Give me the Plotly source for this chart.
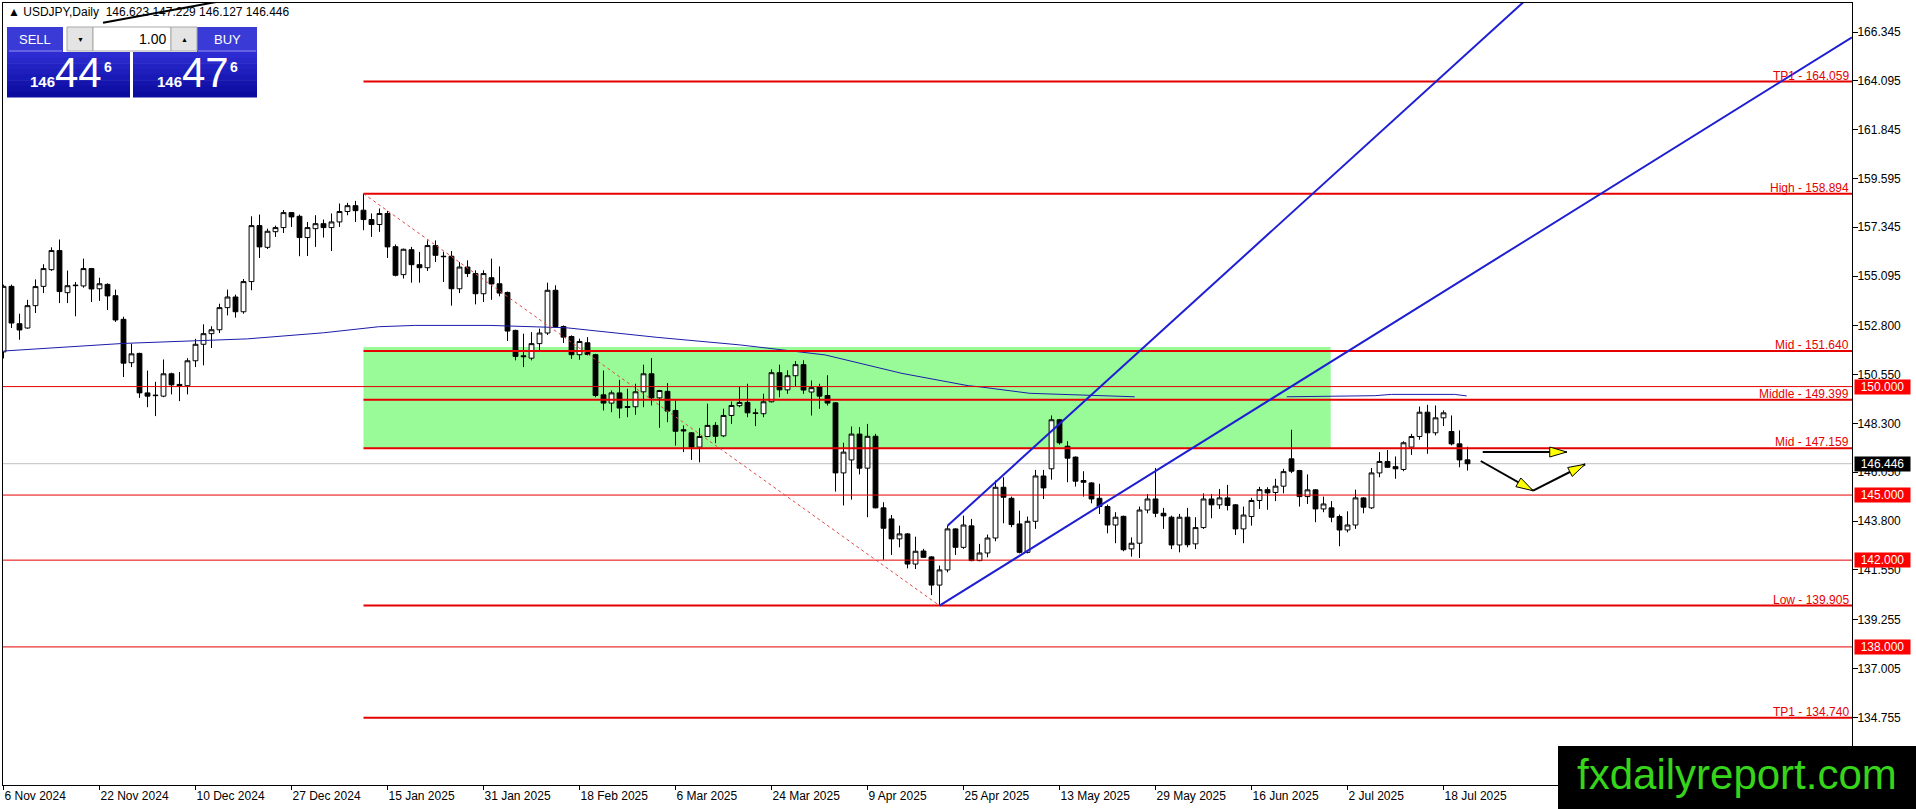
import plotly.graph_objects as go

# ---------------- data ----------------
opens = [151.60, 154.62, 152.90, 152.70, 153.73, 154.62, 155.39, 156.27, 154.33, 154.65,
         154.64, 155.44, 154.51, 154.71, 154.19, 153.10, 151.10, 151.53, 149.71, 149.58,
         149.56, 150.59, 150.10, 150.04, 151.19, 151.95, 152.44, 152.62, 153.64, 154.13,
         153.45, 154.84, 157.42, 156.42, 157.14, 157.33, 158.02, 157.85, 156.87, 157.28,
         157.51, 157.33, 157.59, 158.07, 158.34, 158.13, 157.70, 157.47, 157.98, 156.45,
         155.16, 156.31, 155.62, 155.48, 156.50, 156.01, 156.01, 154.51, 155.51, 155.21,
         154.28, 155.02, 154.74, 154.34, 152.59, 151.42, 151.31, 151.98, 152.47, 154.44,
         152.77, 152.31, 151.47, 152.02, 151.47, 149.62, 149.24, 149.71, 149.08, 149.07,
         149.76, 150.59, 149.48, 149.78, 148.90, 148.01, 147.87, 147.21, 147.70, 148.21,
         147.73, 148.67, 149.12, 149.27, 148.79, 148.75, 149.30, 150.64, 149.85, 150.50,
         151.01, 149.75, 149.98, 149.59, 149.25, 146.02, 146.62, 147.81, 146.24, 147.71,
         144.41, 143.90, 142.98, 143.21, 141.82, 142.42, 142.15, 140.85, 141.55, 143.44,
         142.59, 143.58, 141.98, 142.33, 143.02, 145.36, 144.85, 143.67, 142.36, 143.79,
         145.88, 146.21, 148.47, 147.25, 146.75, 145.67, 145.56, 144.85, 144.47, 143.62,
         144.02, 142.52, 142.78, 144.31, 144.82, 144.16, 143.98, 142.70, 143.98, 142.75,
         143.50, 144.82, 144.55, 144.87, 144.55, 143.44, 144.01, 144.75, 145.25, 145.12,
         145.41, 146.67, 146.13, 144.93, 145.24, 144.36, 144.41, 144.01, 143.39, 143.62,
         144.87, 144.41, 146.02, 146.55, 146.31, 146.18, 147.21, 147.70, 148.82, 147.87,
         148.56, 147.93, 147.36, 146.623]
highs = [154.70, 154.70, 153.36, 154.00, 154.94, 155.64, 156.42, 156.78, 155.35, 154.82,
         155.90, 155.47, 155.02, 154.76, 154.47, 153.22, 151.98, 151.56, 150.74, 150.22,
         151.25, 150.64, 150.67, 151.31, 152.20, 152.87, 152.78, 153.82, 154.47, 154.24,
         154.96, 157.85, 157.93, 157.28, 157.42, 158.14, 158.04, 157.93, 157.59, 157.90,
         157.70, 157.98, 158.44, 158.47, 158.56, 158.894, 157.98, 158.21, 158.10, 156.55,
         156.36, 156.44, 156.21, 156.74, 156.74, 156.21, 156.25, 155.74, 155.82, 155.36,
         155.36, 155.90, 155.54, 154.38, 152.62, 152.44, 152.51, 152.67, 154.79, 154.67,
         152.82, 152.36, 152.21, 152.28, 151.51, 150.74, 149.82, 150.31, 149.90, 150.13,
         151.01, 151.31, 149.85, 150.16, 149.36, 148.21, 147.90, 148.08, 149.21, 148.36,
         148.98, 149.31, 149.98, 150.13, 148.98, 149.67, 150.79, 151.01, 150.75, 151.18,
         151.21, 150.28, 150.13, 150.52, 149.28, 147.41, 148.16, 148.13, 148.28, 147.82,
         144.67, 144.08, 143.59, 143.25, 143.08, 142.52, 142.18, 141.75, 143.59, 143.47,
         144.05, 143.90, 142.75, 143.18, 145.67, 145.82, 144.93, 144.28, 144.01, 146.16,
         146.16, 148.67, 148.51, 147.48, 146.78, 146.10, 145.59, 145.52, 144.56, 144.21,
         144.05, 143.05, 144.47, 145.05, 146.25, 144.41, 144.05, 144.13, 144.41, 143.98,
         145.08, 145.05, 145.28, 145.47, 144.58, 144.47, 144.87, 145.38, 145.36, 145.75,
         146.21, 148.01, 146.16, 145.95, 145.27, 144.93, 144.72, 144.10, 144.25, 145.25,
         144.90, 146.25, 146.98, 147.08, 146.78, 147.48, 147.82, 149.08, 149.16, 149.13,
         148.90, 148.67, 147.98, 147.229]
lows = [151.30, 152.70, 152.16, 152.67, 153.39, 154.31, 155.33, 153.85, 153.85, 153.24,
        154.56, 153.90, 153.95, 153.53, 152.98, 150.44, 150.90, 149.48, 149.05, 148.64,
        149.51, 149.64, 149.33, 149.64, 150.90, 150.98, 151.78, 152.47, 153.28, 153.18,
        153.36, 154.44, 155.93, 156.34, 156.90, 157.08, 157.36, 156.01, 156.02, 156.44,
        156.87, 156.25, 157.36, 157.90, 157.59, 157.21, 156.90, 157.13, 155.93, 155.08,
        154.98, 154.79, 154.79, 155.33, 155.74, 154.82, 153.73, 154.31, 155.05, 153.79,
        153.90, 154.00, 154.16, 152.10, 151.21, 150.90, 151.21, 151.67, 152.38, 152.71,
        152.01, 151.28, 151.24, 151.44, 149.51, 148.90, 148.82, 148.54, 148.59, 148.70,
        149.05, 149.13, 148.10, 148.36, 147.28, 146.98, 146.62, 146.51, 147.67, 147.39,
        147.67, 148.28, 149.05, 148.59, 148.18, 148.59, 149.27, 149.51, 149.67, 150.02,
        149.67, 148.67, 148.98, 149.13, 145.16, 144.52, 144.79, 145.95, 143.98, 144.39,
        142.02, 142.24, 142.59, 141.62, 141.59, 142.10, 140.39, 139.905, 141.44, 142.24,
        142.52, 141.95, 141.95, 142.13, 142.87, 143.70, 143.52, 142.31, 142.31, 143.44,
        144.82, 145.71, 147.33, 145.59, 145.39, 144.93, 144.62, 144.13, 143.24, 142.78,
        142.41, 142.16, 142.10, 144.16, 143.98, 143.44, 142.51, 142.36, 142.59, 142.51,
        143.44, 143.93, 144.36, 144.29, 143.16, 142.78, 143.59, 144.36, 144.32, 144.72,
        145.08, 146.01, 144.47, 144.59, 143.75, 144.21, 143.75, 142.64, 143.28, 143.44,
        144.16, 144.36, 145.82, 146.25, 145.75, 146.10, 146.85, 147.55, 146.90, 147.75,
        148.18, 147.29, 146.28, 146.127]
closes = [154.62, 152.93, 152.61, 153.73, 154.61, 155.44, 156.27, 154.38, 154.65, 154.67,
          155.44, 154.50, 154.74, 154.18, 153.07, 151.08, 151.51, 149.71, 149.56, 149.60,
          150.59, 150.08, 150.04, 151.19, 151.95, 152.44, 152.62, 153.64, 154.13, 153.45,
          154.84, 157.42, 156.44, 157.16, 157.33, 158.02, 157.82, 156.87, 157.33, 157.51,
          157.33, 157.59, 158.07, 158.34, 158.11, 157.70, 157.47, 157.98, 156.44, 155.13,
          156.33, 155.62, 155.48, 156.50, 156.05, 155.99, 154.51, 155.51, 155.21, 154.28,
          155.21, 154.73, 154.31, 152.56, 151.39, 151.38, 151.98, 152.47, 154.44, 152.77,
          152.28, 151.47, 152.08, 151.48, 149.59, 149.24, 149.71, 149.01, 149.04, 149.76,
          150.59, 149.48, 149.82, 148.87, 147.94, 147.96, 147.21, 147.70, 148.21, 147.71,
          148.67, 149.13, 149.27, 148.79, 148.76, 149.30, 150.64, 149.85, 150.50, 151.01,
          149.84, 149.95, 149.56, 149.24, 146.02, 146.98, 147.81, 146.24, 147.71, 144.41,
          143.47, 142.98, 143.21, 141.82, 142.41, 142.13, 140.85, 141.55, 143.44, 142.59,
          143.62, 141.98, 142.33, 143.02, 145.36, 144.90, 143.64, 142.36, 143.79, 145.88,
          145.33, 148.47, 147.41, 146.70, 145.64, 145.59, 144.82, 144.47, 143.62, 143.98,
          142.48, 142.78, 144.31, 144.82, 144.16, 144.04, 142.70, 143.98, 142.71, 143.50,
          144.82, 144.55, 144.87, 144.52, 143.44, 144.08, 144.75, 145.25, 145.10, 145.41,
          146.08, 146.10, 144.93, 145.24, 144.36, 144.59, 143.98, 143.39, 143.62, 144.87,
          144.44, 146.02, 146.55, 146.28, 146.21, 147.41, 147.70, 148.82, 147.87, 148.56,
          148.79, 147.36, 146.62, 146.446]

tick_bars = [0, 12, 24, 36, 48, 60, 72, 84, 96, 108, 120, 132, 144, 156, 168, 180]
tick_labels = ["6 Nov 2024", "22 Nov 2024", "10 Dec 2024", "27 Dec 2024", "15 Jan 2025",
               "31 Jan 2025", "18 Feb 2025", "6 Mar 2025", "24 Mar 2025", "9 Apr 2025",
               "25 Apr 2025", "13 May 2025", "29 May 2025", "16 Jun 2025", "2 Jul 2025",
               "18 Jul 2025"]
price_ticks = [166.345, 164.095, 161.845, 159.595, 157.345, 155.095, 152.800, 150.550,
               148.300, 146.050, 143.800, 141.550, 139.255, 137.005, 134.755]

fib_levels = [164.059, 158.894, 151.640, 149.399, 147.159, 139.905, 134.740]
fib_names = ["TP1", "High", "Mid", "Middle", "Mid", "Low", "TP1"]
fib_start_bar = 45
level_lines = [150.0, 145.0, 142.0, 138.0]
last_price = 146.446

zone_bars = [45, 165.9]
zone_prices = [147.159, 151.825]

ma1_bars = [0, 15, 30.5, 40, 46.9, 51.4, 60.8, 70.4, 81.7, 92.1, 102.7, 112.3, 120.6, 122, 128.3, 134.6, 141.4]
ma1_vals = [151.64, 151.99, 152.20, 152.48, 152.76, 152.82, 152.82, 152.71, 152.27, 151.92, 151.46, 150.61, 150.04, 149.99, 149.69, 149.61, 149.53]
ma2_bars = [160.4, 165, 171.4, 173.5, 181.4, 182.9]
ma2_vals = [149.53, 149.55, 149.58, 149.64, 149.64, 149.57]

swing_bars = [45, 117]
swing_prices = [158.894, 139.905]
lower_ray = ([117, 231.06], [139.905, 166.10])
upper_ray = ([118, 200], [143.587, 171.08])
black_ray = ([12.44, 45], [166.774, 168.97])

arrow1 = ([184.9, 195.4], [146.985, 146.985])
arrow2 = ([184.65, 191.2, 197.7], [146.57, 145.20, 146.42])

header = "\u25b2 USDJPY,Daily  146.623 147.229 146.127 146.446"

# ---------------- geometry helpers ----------------
W, H = 1916, 809
L, R, T, B = 3, 1852, 3, 785
XR = [-0.0625, 231.06]
YR = [131.635, 167.682]
PX_PER_BAR = (R - L) / (XR[1] - XR[0])
PX_PER_PRICE = (B - T) / (YR[1] - YR[0])


def px(x):
    return (x - L) / (R - L)


def py(y):
    return 1 - (y - T) / (B - T)


FONT = "Liberation Sans"
RED = "#e60000"

fig = go.Figure()

fig.add_trace(go.Candlestick(
    x=list(range(len(opens))), open=opens, high=highs, low=lows, close=closes,
    increasing=dict(line=dict(color="black", width=1), fillcolor="white"),
    decreasing=dict(line=dict(color="black", width=1), fillcolor="black"),
    whiskerwidth=0, hoverinfo="skip", showlegend=False))

for bx, vy in ((ma1_bars, ma1_vals), (ma2_bars, ma2_vals)):
    fig.add_trace(go.Scatter(x=bx, y=vy, mode="lines", line=dict(color="#1c1caa", width=1),
                             hoverinfo="skip", showlegend=False))

shapes = []
# green zone (background)
shapes.append(dict(type="rect", xref="x", yref="y", x0=zone_bars[0], x1=zone_bars[1],
                   y0=zone_prices[0], y1=zone_prices[1], fillcolor="#98fb98",
                   line=dict(width=0), layer="below"))
# current price line
shapes.append(dict(type="line", xref="paper", yref="y", x0=0, x1=1, y0=last_price, y1=last_price,
                   line=dict(color="#c0c0c0", width=1), layer="below"))
# horizontal level lines
for lv in level_lines:
    shapes.append(dict(type="line", xref="paper", yref="y", x0=0, x1=1, y0=lv, y1=lv,
                       line=dict(color=RED, width=1)))
# fibonacci lines
for lv in fib_levels:
    shapes.append(dict(type="line", xref="x", yref="y", x0=fib_start_bar, x1=XR[1], y0=lv, y1=lv,
                       line=dict(color=RED, width=2)))
# swing diagonal
shapes.append(dict(type="line", xref="x", yref="y", x0=swing_bars[0], x1=swing_bars[1],
                   y0=swing_prices[0], y1=swing_prices[1],
                   line=dict(color="#e04848", width=1, dash="dot")))
# blue trend rays
for xs, ys in (lower_ray, upper_ray):
    shapes.append(dict(type="line", xref="x", yref="y", x0=xs[0], x1=xs[1], y0=ys[0], y1=ys[1],
                       line=dict(color="#1e1ed2", width=2)))
shapes.append(dict(type="line", xref="x", yref="y", x0=black_ray[0][0], x1=black_ray[0][1],
                   y0=black_ray[1][0], y1=black_ray[1][1], line=dict(color="black", width=2)))


def head(tip, frm, length=17, half=5):
    dxp = (tip[0] - frm[0]) * PX_PER_BAR
    dyp = (tip[1] - frm[1]) * PX_PER_PRICE
    n = (dxp ** 2 + dyp ** 2) ** 0.5
    ux, uy = dxp / n, dyp / n
    bx, by = -ux * length, -uy * length
    pts = [(0, 0), (bx - uy * half, by + ux * half), (bx + uy * half, by - ux * half)]
    coords = [(tip[0] + p[0] / PX_PER_BAR, tip[1] + p[1] / PX_PER_PRICE) for p in pts]
    return "M " + " L ".join(f"{a},{b}" for a, b in coords) + " Z"


for ax, ay in (arrow1, arrow2):
    for i in range(len(ax) - 1):
        shapes.append(dict(type="line", xref="x", yref="y", x0=ax[i], x1=ax[i + 1], y0=ay[i], y1=ay[i + 1],
                           line=dict(color="black", width=2)))
    for i in range(1, len(ax)):
        shapes.append(dict(type="path", xref="x", yref="y",
                           path=head((ax[i], ay[i]), (ax[i - 1], ay[i - 1])),
                           fillcolor="#ffff00", line=dict(color="black", width=1)))


def prect(x0, y0, x1, y1, fill, line=None):
    shapes.append(dict(type="rect", xref="paper", yref="paper", x0=px(x0), x1=px(x1),
                       y0=py(y1), y1=py(y0), fillcolor=fill,
                       line=dict(width=1 if line else 0, color=line or fill)))


# trade panel
prect(7, 27, 63, 52, "#3a3ad6")
prect(197, 27, 257, 52, "#3a3ad6")
prect(67, 27, 93, 51, "#e4e4e4", "#a8a8a8")
prect(93, 27, 171, 51, "#ffffff", "#a8a8a8")
prect(171, 27, 197, 51, "#e4e4e4", "#a8a8a8")
top_c, bot_c = (0x2c, 0x2c, 0xd2), (0x0c, 0x0c, 0xa0)
nb = 8
for k in range(nb):
    f = k / (nb - 1)
    col = "#%02x%02x%02x" % tuple(int(top_c[j] + (bot_c[j] - top_c[j]) * f) for j in range(3))
    y0 = 52 + k * 45 / nb
    y1 = 52 + (k + 1) * 45 / nb + 0.6
    prect(7, y0, 130, y1, col)
    prect(133, y0, 257, y1, col)
prect(9, 50.5, 62, 51.5, "#8a8af0")
prect(198, 50.5, 256, 51.5, "#8a8af0")

# watermark box
prect(1558, 746, 1918, 811, "#000000")

annotations = []


def ptext(x, y, text, size, color="black", xanchor="center", bold=False, family=FONT):
    t = f"<b>{text}</b>" if bold else text
    annotations.append(dict(xref="paper", yref="paper", x=px(x), y=py(y), text=t, showarrow=False,
                            xanchor=xanchor, yanchor="middle",
                            font=dict(family=family, size=size, color=color)))


ptext(6, 12, header, 12, xanchor="left")
ptext(35, 39.5, "SELL", 13, "white")
ptext(227, 39.5, "BUY", 13, "white")
ptext(80, 39, "\u25bc", 7)
ptext(184, 39, "\u25b2", 7)
ptext(168, 39, "1.00", 14, xanchor="right")
ptext(42.5, 81, "146", 15, "white", bold=True)
ptext(78.5, 72, "44", 42, "white")
ptext(107.5, 67, "6", 14, "white", bold=True)
ptext(169.5, 81, "146", 15, "white", bold=True)
ptext(205, 72, "47", 42, "white")
ptext(234, 67, "6", 14, "white", bold=True)
ptext(1737, 774, "fxdailyreport.com", 42, "#36d41a")

# fib labels
for lv, nm in zip(fib_levels, fib_names):
    annotations.append(dict(xref="paper", yref="y", x=1, y=lv, text=f"{nm} - {lv:.3f}",
                            showarrow=False, xanchor="right", yanchor="bottom", xshift=-1, yshift=-3,
                            font=dict(family=FONT, size=12, color=RED)))
# axis price boxes
for lv, bg in [(v, "#ff0000") for v in level_lines] + [(last_price, "#000000")]:
    annotations.append(dict(xref="paper", yref="y", x=1, y=lv, text=f"{lv:.3f}", showarrow=False,
                            xanchor="left", yanchor="middle", xshift=2, width=53, height=12,
                            borderpad=1, bgcolor=bg, align="center",
                            font=dict(family=FONT, size=12, color="white")))

fig.update_layout(
    width=W, height=H, margin=dict(l=L, r=W - R, t=T, b=H - B),
    paper_bgcolor="white", plot_bgcolor="white",
    font=dict(family=FONT, size=12, color="black"),
    showlegend=False, boxgap=0.4, boxgroupgap=0,
    shapes=shapes, annotations=annotations,
    xaxis=dict(range=XR, tickmode="array", tickvals=tick_bars, ticktext=tick_labels,
               ticks="outside", ticklen=4, tickcolor="black", ticklabelposition="outside right",
               showgrid=False, zeroline=False, showline=True, mirror=True, linecolor="black",
               linewidth=1, rangeslider=dict(visible=False), fixedrange=True,
               tickfont=dict(family=FONT, size=12, color="black")),
    yaxis=dict(range=YR, side="right", tickmode="array", tickvals=price_ticks,
               ticktext=[f"{v:.3f}" for v in price_ticks], ticks="outside", ticklen=5,
               ticklabelstandoff=-3,
               tickcolor="black", showgrid=False, zeroline=False, showline=True, mirror=True,
               linecolor="black", linewidth=1, fixedrange=True,
               tickfont=dict(family=FONT, size=12, color="black")),
)

fig.write_html("out.html", config={"displayModeBar": False},
               post_script="document.body.style.margin='0px';document.body.style.overflow='hidden';")
